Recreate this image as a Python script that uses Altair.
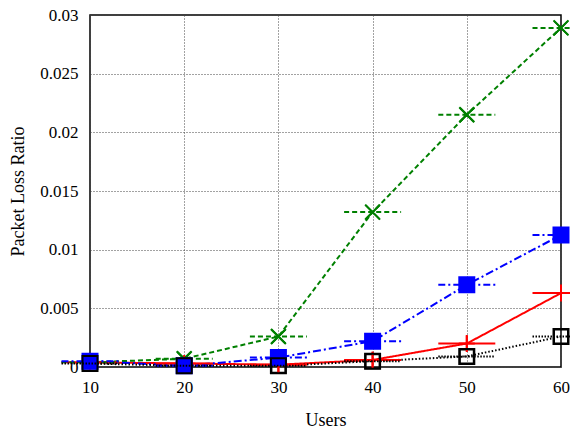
import altair as alt
import pandas as pd

users = [10, 20, 30, 40, 50, 60]
series_names = ["EXP-RULE", "EXP-RULE-VT", "EXP-RULE-VT-SH", "EXP-RULE-SH"]
exp_rule = [0.0004, 0.0003, 0.0002, 0.0006, 0.0020, 0.0063]
exp_rule_vt = [0.0004, 0.0007, 0.0026, 0.0132, 0.0215, 0.0289]
exp_rule_vt_sh = [0.0005, 0.0001, 0.0008, 0.0022, 0.0070, 0.01125]
exp_rule_sh = [0.0003, 0.0001, 0.0001, 0.0005, 0.0009, 0.0026]
y_ticks = [0, 0.005, 0.01, 0.015, 0.02, 0.025, 0.03]
x_ticks = [10, 20, 30, 40, 50, 60]

values = [exp_rule, exp_rule_vt, exp_rule_vt_sh, exp_rule_sh]
rows = []
for name, vals in zip(series_names, values):
    for u, v in zip(users, vals):
        rows.append({"Users": u, "PLR": v, "series": name})
df = pd.DataFrame(rows)

colors = ["#ff0000", "#008000", "#0000ff", "#000000"]
dashes = [[1, 0], [5, 3], [8, 3, 2, 3], [1.5, 2]]
widths = [2, 2, 2, 1.5]

FONT = "Liberation Serif"

PLUS = "M-1,0H1M0,-1V1"
XMARK = "M-1,-1L1,1M-1,1L1,-1"
SQUARE = "M-1,-1H1V1H-1Z"


def dash_path(pattern, half=3.8):
    segs = []
    x = -half
    i = 0
    while x < half:
        step = pattern[i % len(pattern)]
        if i % 2 == 0:
            segs.append("M%.3f,0H%.3f" % (x, min(x + step, half)))
        x += step
        i += 1
    return "".join(segs)


legend_shapes = [
    dash_path([7.6, 0.1]) + "M-1.13,0H1.13M0,-1.13V1.13",
    dash_path([0.67, 0.4]) + XMARK,
    dash_path([0.93, 0.4, 0.27, 0.4]) + SQUARE,
    dash_path([0.2, 0.2]) + SQUARE,
]
legend_fills = ["transparent", "transparent", "#0000ff", "transparent"]

x_enc = alt.X("Users:Q", scale=alt.Scale(domain=[10, 60], nice=False),
              axis=alt.Axis(values=x_ticks, title="Users", format="d", labelFont=FONT,
                            titleFont=FONT, labelFlush=False))
y_enc = alt.Y("PLR:Q", scale=alt.Scale(domain=[0, 0.03], nice=False),
              axis=alt.Axis(values=y_ticks, title="Packet Loss Ratio", format="~g",
                            labelFont=FONT, titleFont=FONT, labelFlush=False))

lines = alt.Chart(df).mark_line().encode(
    x=x_enc,
    y=y_enc,
    color=alt.Color("series:N", scale=alt.Scale(domain=series_names, range=colors), legend=None),
    strokeDash=alt.StrokeDash("series:N", scale=alt.Scale(domain=series_names, range=dashes), legend=None),
    strokeWidth=alt.StrokeWidth("series:N", scale=alt.Scale(domain=series_names, range=widths), legend=None),
)

marker_specs = [
    (PLUS, 256, False, colors[0]),
    (XMARK, 196, False, colors[1]),
    (SQUARE, 196, True, colors[2]),
    (SQUARE, 196, False, colors[3]),
]
point_layers = []
for name, (shape, size, filled, col) in zip(series_names, marker_specs):
    if filled:
        mk = alt.Chart(df).mark_point(shape=shape, size=size, filled=True, fill=col,
                                      stroke=col, strokeWidth=1.5, opacity=1)
    else:
        mk = alt.Chart(df).mark_point(shape=shape, size=size, filled=False, fill="transparent",
                                      stroke=col, strokeWidth=2, opacity=1)
    point_layers.append(
        mk.encode(x="Users:Q", y="PLR:Q").transform_filter(alt.datum.series == name)
    )

legend_layer = alt.Chart(df).mark_point(opacity=1, strokeWidth=2, size=225).encode(
    x="Users:Q",
    y="PLR:Q",
    stroke=alt.Stroke("series:N", scale=alt.Scale(domain=series_names, range=colors), title=None),
    fill=alt.Fill("series:N", scale=alt.Scale(domain=series_names, range=legend_fills), title=None),
    shape=alt.Shape("series:N", scale=alt.Scale(domain=series_names, range=legend_shapes), title=None),
)

chart = alt.layer(lines, *point_layers, legend_layer).properties(
    width=471,
    height=352,
    autosize=alt.AutoSizeParams(type="none"),
    padding={"left": 90, "top": 15, "right": 9, "bottom": 61},
).configure_view(
    stroke="black", strokeWidth=1.5
).configure_axis(
    labelFont=FONT, titleFont=FONT, labelFontSize=17, titleFontSize=18,
    titleFontWeight="normal", labelColor="black", titleColor="black",
    ticks=False, domain=False,
    grid=True, gridColor="#444444", gridDash=[1, 2], gridWidth=1, gridOpacity=1,
).configure_axisX(
    labelPadding=12, titlePadding=16,
).configure_axisY(
    labelPadding=12, titlePadding=12,
).configure_legend(
    orient="none", legendX=12, legendY=7,
    labelFont=FONT, labelFontSize=21, labelColor="black",
    labelAlign="right", labelOffset=146, symbolOffset=198, labelLimit=400,
    symbolSize=225, symbolStrokeWidth=2,
    strokeColor="black", fillColor="white", padding=6, rowPadding=0,
)

chart.save("out.html", embed_options={"renderer": "svg", "actions": False})
